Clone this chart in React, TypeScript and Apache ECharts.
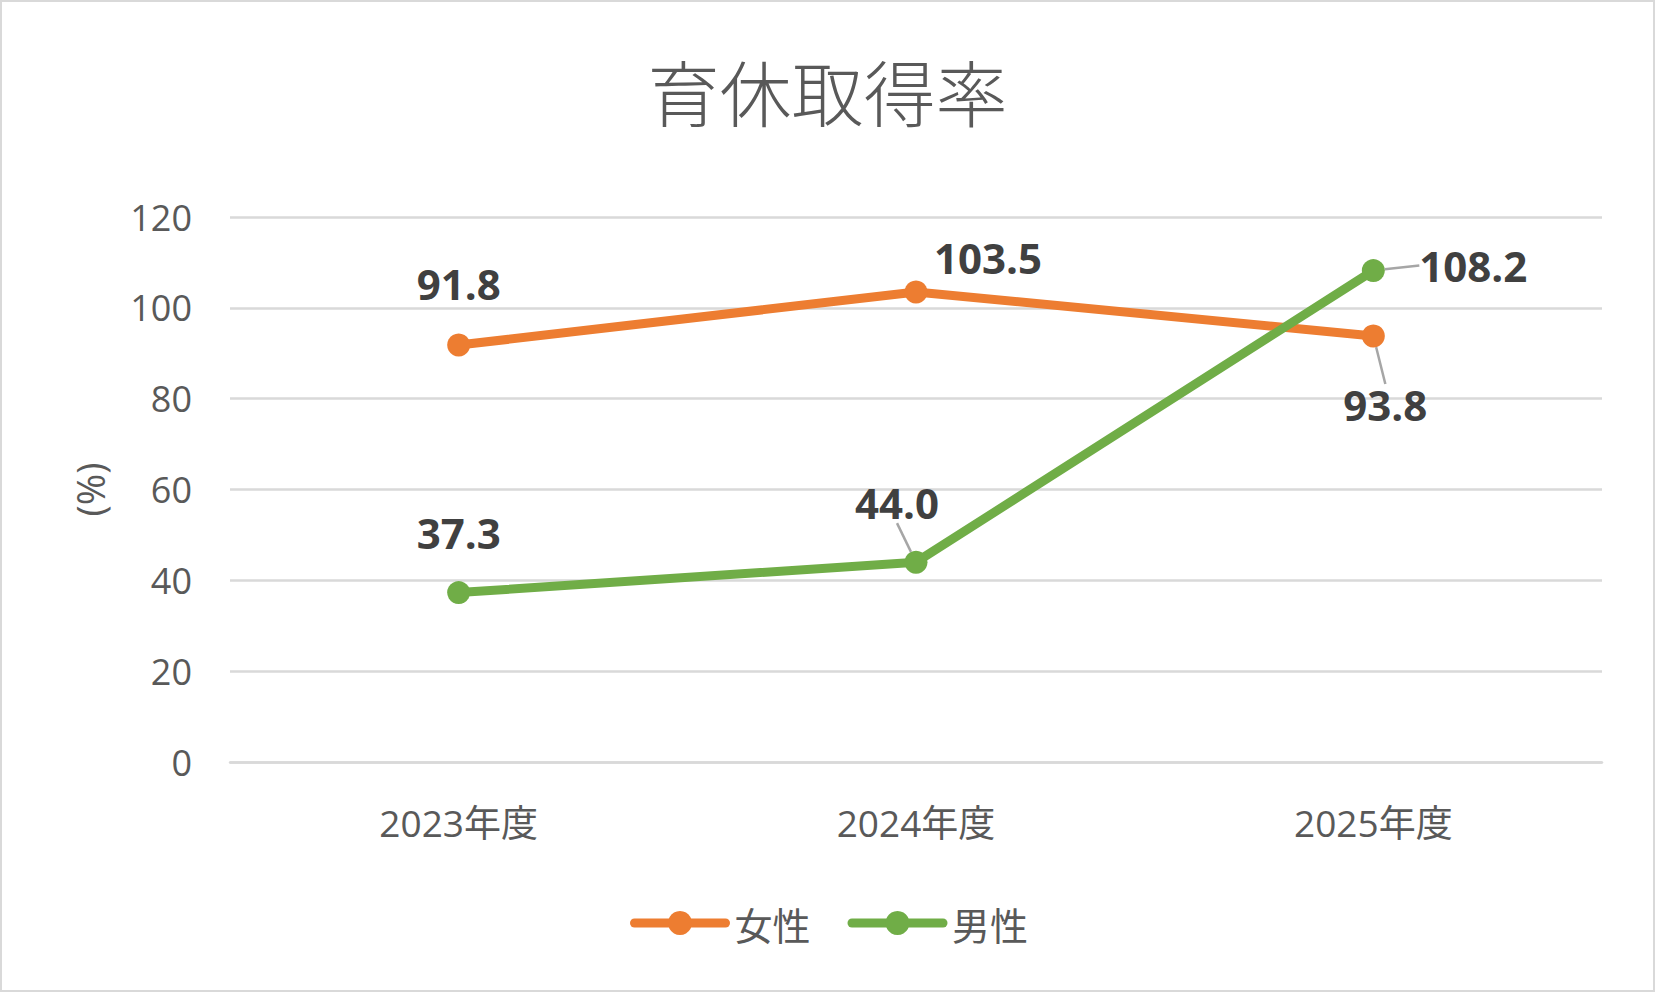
import React, { useEffect, useRef } from "react";
import * as echarts from "echarts";

const categories = ["2023年度", "2024年度", "2025年度"];
const femaleValues = [91.8, 103.5, 93.8];
const maleValues = [37.3, 44.0, 108.2];
const seriesNames = ["女性", "男性"];
const titleText = "育休取得率";
const yAxisName = "(%)";

// label placement (styling only): [dx, dy] relative to the marker centre
const femaleLabelOffsets = [[0, -62], [72, -34], [12, 69]];
const maleLabelOffsets = [[0, -60], [-19, -60], [100, -5]];
const femaleLeader = [false, false, true];
const maleLeader = [false, true, true];

const LATIN = "'Open Sans', 'Noto Sans CJK JP', sans-serif";
const CJK = "'Noto Sans CJK JP', 'Open Sans', sans-serif";

export default function App() {
  const ref = useRef<HTMLDivElement>(null);
  useEffect(() => {
    if (!ref.current) return;
    const chart = echarts.init(ref.current, null, { renderer: "svg" });
    const mkData = (vals: number[], leaders: boolean[]) =>
      vals.map((v, i) => ({
        value: v,
        labelLine: { show: leaders[i] },
      }));
    const mkLayout = (offs: number[][]) => (p: any) => ({
      dx: offs[p.dataIndex][0],
      dy: offs[p.dataIndex][1],
    });
    const labelCommon = {
      show: true,
      position: "inside",
      formatter: (p: any) => Number(p.value).toFixed(1),
      fontFamily: LATIN,
      fontWeight: "bold",
      fontSize: 42,
      lineHeight: 42,
      color: "#404040",
    };
    const labelLineCommon = {
      show: true,
      showAbove: true,
      length2: 0,
      lineStyle: { color: "#A6A6A6", width: 2.5 },
    };
    chart.setOption({
      animation: false,
      backgroundColor: "#ffffff",
      graphic: [
        {
          type: "rect",
          shape: { x: 1, y: 1, width: 1653, height: 990 },
          style: { fill: "none", stroke: "#D9D9D9", lineWidth: 2 },
          silent: true,
          z: -1,
        },
      ],
      title: {
        text: titleText,
        left: "center",
        top: 51,
        padding: 0,
        textStyle: {
          fontFamily: CJK,
          fontSize: 72,
          lineHeight: 76,
          fontWeight: 300,
          color: "#595959",
        },
      },
      legend: {
        left: 630,
        top: 903,
        itemWidth: 91,
        itemHeight: 30,
        itemGap: 37,
        padding: 0,
        lineStyle: { width: 9, cap: "round" },
        textStyle: {
          fontFamily: CJK,
          fontSize: 38,
          lineHeight: 40,
          color: "#595959",
          padding: [0, 0, 0, 4],
        },
        data: seriesNames,
      },
      grid: { left: 230, right: 53, top: 217, bottom: 230, containLabel: false },
      xAxis: {
        type: "category",
        data: categories,
        boundaryGap: true,
        axisLine: { show: true, lineStyle: { color: "#D9D9D9", width: 2.5 } },
        axisTick: { show: false },
        axisLabel: {
          margin: 41,
          fontFamily: LATIN,
          fontSize: 37,
          lineHeight: 38,
          color: "#595959",
        },
      },
      yAxis: {
        type: "value",
        min: 0,
        max: 120,
        interval: 20,
        name: yAxisName,
        nameLocation: "middle",
        nameRotate: 90,
        nameGap: 121,
        nameTextStyle: {
          fontFamily: LATIN,
          fontSize: 38,
          color: "#595959",
        },
        axisLine: { show: false },
        axisTick: { show: false },
        splitLine: { lineStyle: { color: "#D9D9D9", width: 2.5 } },
        axisLabel: {
          margin: 38,
          fontFamily: LATIN,
          fontSize: 36,
          color: "#595959",
          padding: [0, 0, 4, 0],
        },
      },
      series: [
        {
          name: seriesNames[0],
          type: "line",
          data: mkData(femaleValues, femaleLeader),
          symbol: "circle",
          symbolSize: 23,
          lineStyle: { color: "#ED7D31", width: 9, cap: "round" },
          itemStyle: { color: "#ED7D31" },
          label: labelCommon,
          labelLine: labelLineCommon,
          labelLayout: mkLayout(femaleLabelOffsets),
          z: 2,
        },
        {
          name: seriesNames[1],
          type: "line",
          data: mkData(maleValues, maleLeader),
          symbol: "circle",
          symbolSize: 23,
          lineStyle: { color: "#70AD47", width: 9, cap: "round" },
          itemStyle: { color: "#70AD47" },
          label: labelCommon,
          labelLine: labelLineCommon,
          labelLayout: mkLayout(maleLabelOffsets),
          z: 3,
        },
      ],
    });
    return () => chart.dispose();
  }, []);
  return (
    <div
      ref={ref}
      style={{ position: "fixed", left: 0, top: 0, width: 1655, height: 992 }}
    />
  );
}
